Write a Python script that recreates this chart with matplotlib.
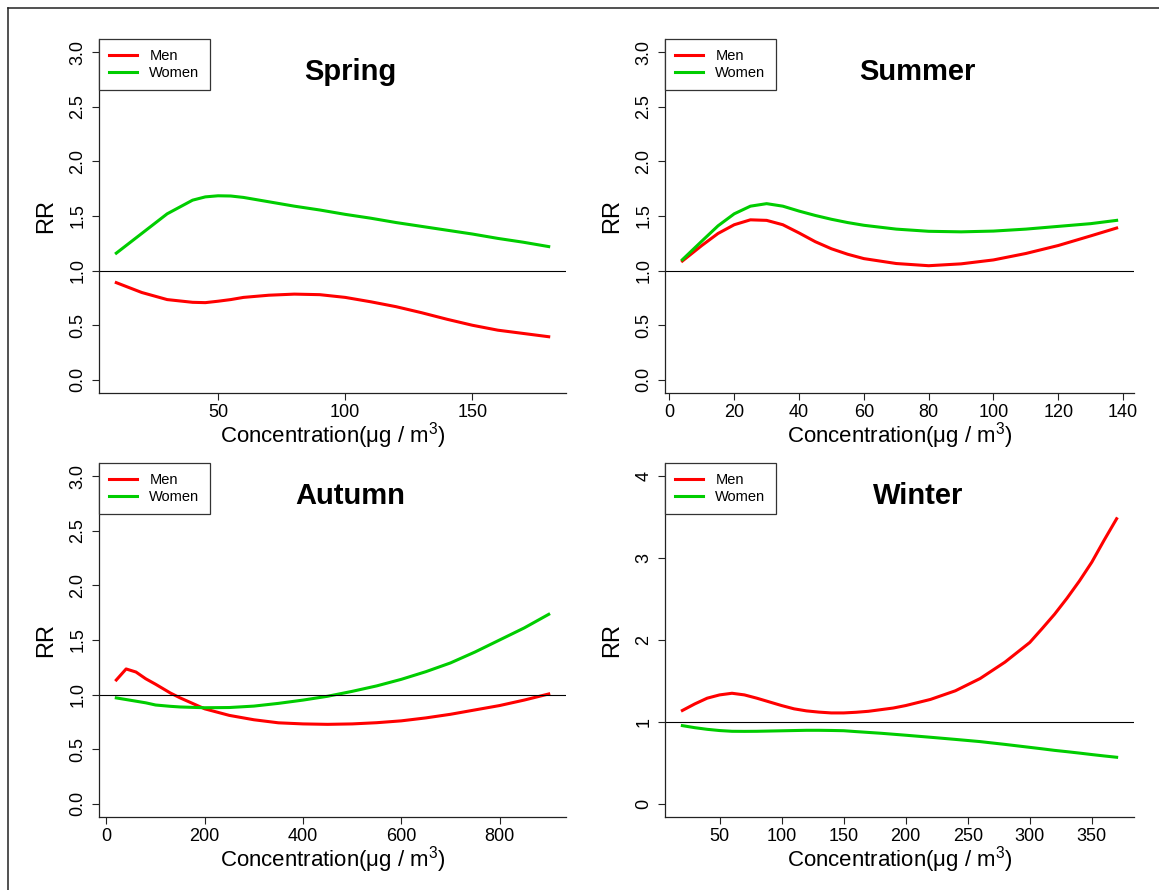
import matplotlib
matplotlib.use("Agg")
import matplotlib.pyplot as plt
from matplotlib.lines import Line2D

plt.rcParams['font.family'] = ['Liberation Sans', 'DejaVu Sans']
plt.rcParams['mathtext.fontset'] = 'custom'
plt.rcParams['mathtext.rm'] = 'Liberation Sans'
plt.rcParams['mathtext.it'] = 'Liberation Sans:italic'

RED = '#FF0000'
GREEN = '#00CD00'

# ---- Spring ----
spring_x = [10, 20, 30, 40, 45, 50, 55, 60, 70, 80, 90, 100, 110, 120, 130, 140, 150, 160, 170, 180]
spring_men = [0.89, 0.80, 0.735, 0.71, 0.707, 0.72, 0.735, 0.755, 0.775, 0.785, 0.78, 0.755,
              0.715, 0.67, 0.615, 0.555, 0.50, 0.455, 0.425, 0.395]
spring_women = [1.16, 1.34, 1.52, 1.645, 1.675, 1.685, 1.683, 1.67, 1.63, 1.59, 1.555, 1.515,
                1.48, 1.44, 1.405, 1.37, 1.335, 1.295, 1.26, 1.22]

# ---- Summer ----
summer_x = [4, 10, 15, 20, 25, 30, 35, 40, 45, 50, 55, 60, 70, 80, 90, 100, 110, 120, 130, 138]
summer_men = [1.088, 1.23, 1.34, 1.42, 1.465, 1.46, 1.42, 1.345, 1.265, 1.20, 1.15, 1.11,
              1.065, 1.045, 1.062, 1.098, 1.157, 1.23, 1.318, 1.39]
summer_women = [1.10, 1.27, 1.41, 1.52, 1.59, 1.613, 1.59, 1.545, 1.505, 1.47, 1.44, 1.415,
                1.38, 1.36, 1.355, 1.362, 1.38, 1.405, 1.43, 1.46]

# ---- Autumn ----
autumn_x = [20, 40, 60, 80, 100, 130, 150, 200, 250, 300, 350, 400, 450, 500, 550,
            600, 650, 700, 750, 800, 850, 900]
autumn_men = [1.134, 1.235, 1.207, 1.145, 1.095, 1.015, 0.97, 0.87, 0.81, 0.77, 0.742, 0.732,
              0.728, 0.732, 0.743, 0.76, 0.787, 0.82, 0.86, 0.90, 0.95, 1.006]
autumn_women = [0.97, 0.955, 0.94, 0.925, 0.905, 0.893, 0.887, 0.88, 0.882, 0.895, 0.92, 0.95,
                0.985, 1.03, 1.08, 1.14, 1.21, 1.29, 1.39, 1.50, 1.61, 1.735]

# ---- Winter ----
winter_x = [20, 30, 40, 50, 60, 70, 80, 90, 100, 110, 120, 130, 140, 150, 160, 170, 180, 190,
            200, 220, 240, 260, 280, 290, 300, 310, 320, 330, 340, 350, 360, 370]
winter_men = [1.14, 1.22, 1.29, 1.33, 1.35, 1.33, 1.29, 1.245, 1.20, 1.16, 1.135, 1.12, 1.11,
              1.11, 1.118, 1.13, 1.15, 1.17, 1.20, 1.275, 1.38, 1.53, 1.73, 1.85, 1.97, 2.14,
              2.315, 2.51, 2.72, 2.95, 3.22, 3.48]
winter_women = [0.955, 0.93, 0.91, 0.895, 0.886, 0.885, 0.886, 0.889, 0.892, 0.895, 0.898, 0.898,
                0.896, 0.893, 0.882, 0.872, 0.862, 0.85, 0.838, 0.813, 0.787, 0.76, 0.726,
                0.708, 0.69, 0.672, 0.653, 0.637, 0.62, 0.602, 0.585, 0.569]

panels = [
    ('Spring', spring_x, spring_men, spring_women, [50, 100, 150], 3),
    ('Summer', summer_x, summer_men, summer_women, list(range(0, 141, 20)), 3),
    ('Autumn', autumn_x, autumn_men, autumn_women, list(range(0, 801, 200)), 3),
    ('Winter', winter_x, winter_men, winter_women, list(range(50, 351, 50)), 4),
]

W, H = 1159, 890
fig = plt.figure(figsize=(W / 100, H / 100), dpi=100)

# axes boxes in pixels (left, top, right, bottom)
boxes = [(99, 39, 566, 393), (665, 39, 1134, 393),
         (99, 463, 566, 817), (665, 463, 1134, 817)]

for (name, xs, men, women, xticks, ymax), (l, t, r, b) in zip(panels, boxes):
    ax = fig.add_axes([l / W, 1 - b / H, (r - l) / W, (b - t) / H])
    ax.plot(xs, men, color=RED, lw=2.2, label='Men', solid_joinstyle='round')
    ax.plot(xs, women, color=GREEN, lw=2.2, label='Women', solid_joinstyle='round')
    ax.axhline(1, color='black', lw=0.8)

    span = xs[-1] - xs[0]
    ax.set_xlim(xs[0] - 0.04 * span, xs[-1] + 0.04 * span)
    ax.set_ylim(-0.04 * ymax, ymax * 1.04)
    ax.set_xticks(xticks)
    if ymax == 3:
        yt = [0, 0.5, 1, 1.5, 2, 2.5, 3]
        ax.set_yticks(yt)
        ax.set_yticklabels(['%.1f' % v for v in yt])
    else:
        ax.set_yticks([0, 1, 2, 3, 4])

    for s in ['top', 'right']:
        ax.spines[s].set_visible(False)
    for s in ['left', 'bottom']:
        ax.spines[s].set_linewidth(0.9)
        ax.spines[s].set_color('#222222')
    ax.tick_params(axis='both', direction='out', length=5, width=0.8, color='#222222',
                   labelsize=13)
    ax.tick_params(axis='x', pad=3)
    ax.tick_params(axis='y', pad=4, labelrotation=90)
    for lab in ax.get_yticklabels():
        lab.set_va('center')

    ax.text(0.539, 0.907, name, transform=ax.transAxes, ha='center', va='center',
            fontsize=21, fontweight='bold')
    ax.text(0.5, -0.14, 'Concentration(μg / m$^{3}$)',
            transform=ax.transAxes, ha='center', va='baseline', fontsize=16)
    ax.text(-0.113, 0.5, 'RR', transform=ax.transAxes, rotation=90, ha='center',
            va='center', fontsize=17)

    leg = ax.legend(loc='upper left', bbox_to_anchor=(0, 1), borderaxespad=0,
                    fancybox=False, edgecolor='#333333', framealpha=1, fontsize=10.5,
                    handlelength=1.9, handletextpad=0.85, labelspacing=0.2,
                    borderpad=0.7)
    leg.get_frame().set_linewidth(0.9)

# outer frame (left and top edges only visible)
fig.add_artist(Line2D([8 / W, 8 / W], [0, 1 - 8 / H], transform=fig.transFigure,
                      color='#222222', lw=1.1))
fig.add_artist(Line2D([8 / W, 1], [1 - 8 / H, 1 - 8 / H], transform=fig.transFigure,
                      color='#222222', lw=1.1))

fig.savefig('out.png', dpi=100)
